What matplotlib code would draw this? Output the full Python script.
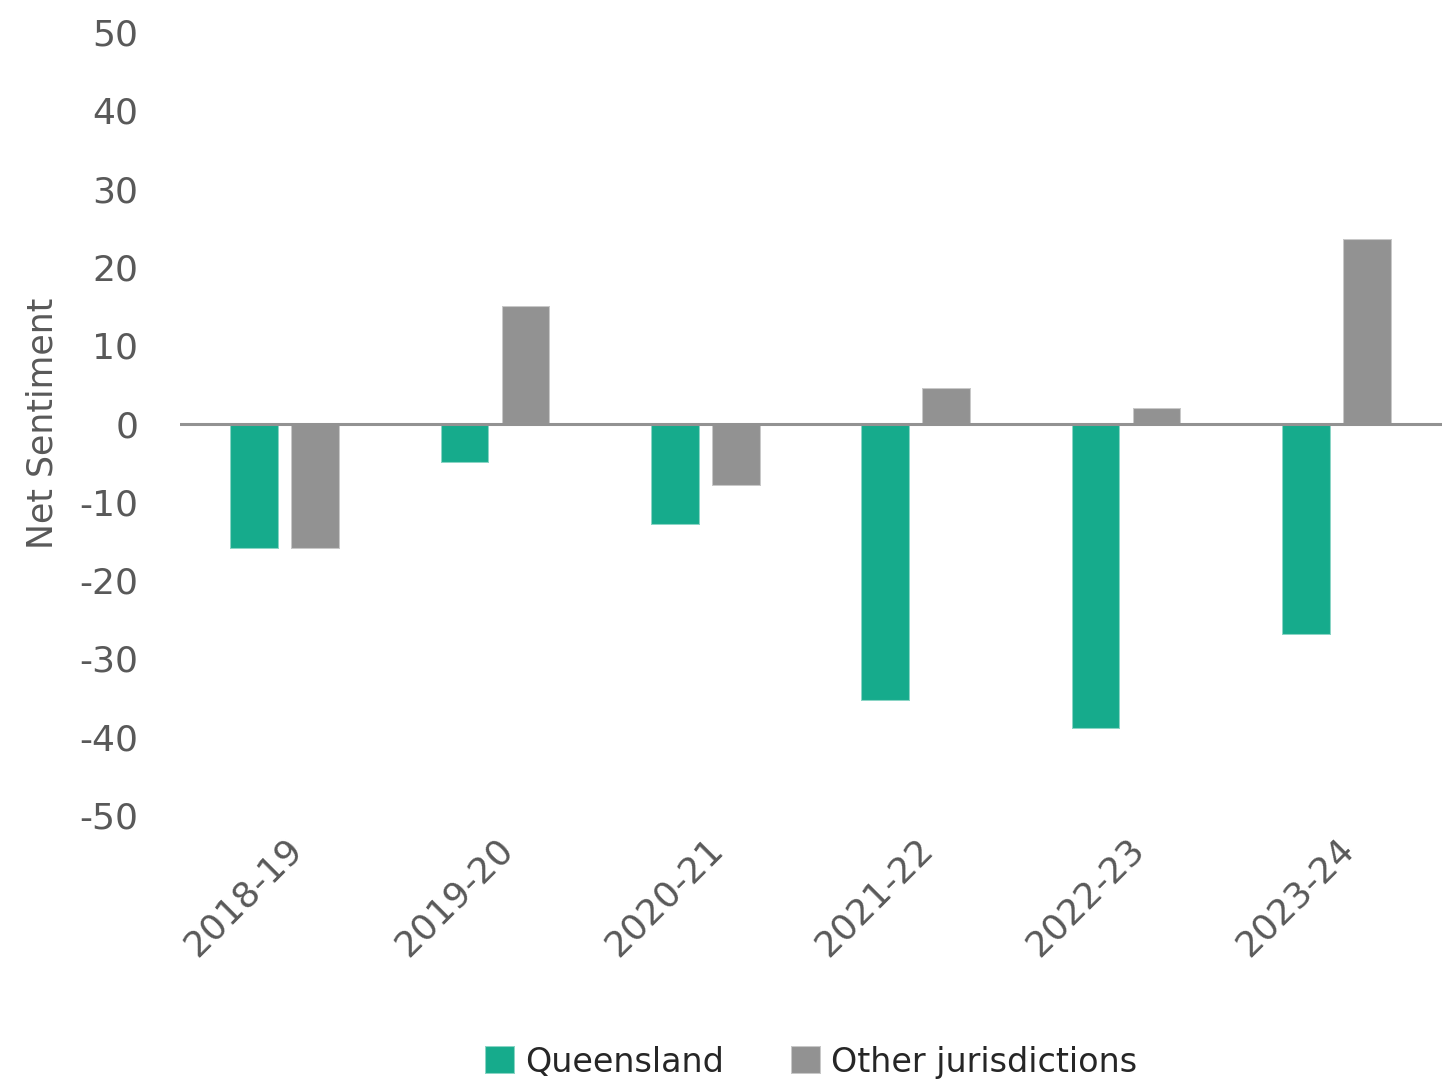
import matplotlib
matplotlib.use("Agg")
import matplotlib.pyplot as plt
import numpy as np

categories = ["2018-19", "2019-20", "2020-21", "2021-22", "2022-23", "2023-24"]
queensland = [-16, -5, -13, -35.5, -39, -27]
other = [-16, 15, -8, 4.5, 2, 23.5]
series_names = ["Queensland", "Other jurisdictions"]
yticks = [50, 40, 30, 20, 10, 0, -10, -20, -30, -40, -50]

teal = "#16AB8C"
grey = "#929292"
tick_col = "#595959"

plt.rcParams['font.family'] = ['DejaVu Sans']
fig = plt.figure(figsize=(14.42, 10.85), dpi=100)
ax = fig.add_axes([180/1442, 1-815/1085, 1-180/1442, (815-32)/1085])

x = np.arange(len(categories))
w = 0.23
off = 0.145
ax.bar(x - off, queensland, w, color=teal, edgecolor=(1, 1, 1, 0.5), linewidth=1.5, label=series_names[0])
ax.bar(x + off, other, w, color=grey, edgecolor=(1, 1, 1, 0.5), linewidth=1.5, label=series_names[1])
ax.axhline(0, color=grey, linewidth=2.2, zorder=3)

ax.set_xlim(-0.5, len(categories) - 0.5)
ax.set_ylim(-50, 50)
ax.set_yticks(yticks)
ax.set_yticklabels([str(v) for v in yticks], fontsize=26, color=tick_col)
ax.set_xticks(x)
ax.set_xticklabels(categories, fontsize=26, color=tick_col, rotation=45, ha='right', rotation_mode='anchor')
ax.tick_params(axis='y', length=0, pad=30)
ax.tick_params(axis='x', length=0, pad=12)
for s in ax.spines.values():
    s.set_visible(False)
ax.set_ylabel("Net Sentiment", fontsize=25, color=tick_col, labelpad=14)

ax.legend(loc='lower center', bbox_to_anchor=(0.5, -0.375), ncol=2, frameon=False,
          fontsize=24, handlelength=0.9, handleheight=0.9, handletextpad=0.3,
          columnspacing=2.0, labelcolor="#262626")

fig.savefig("out.png", dpi=100)
